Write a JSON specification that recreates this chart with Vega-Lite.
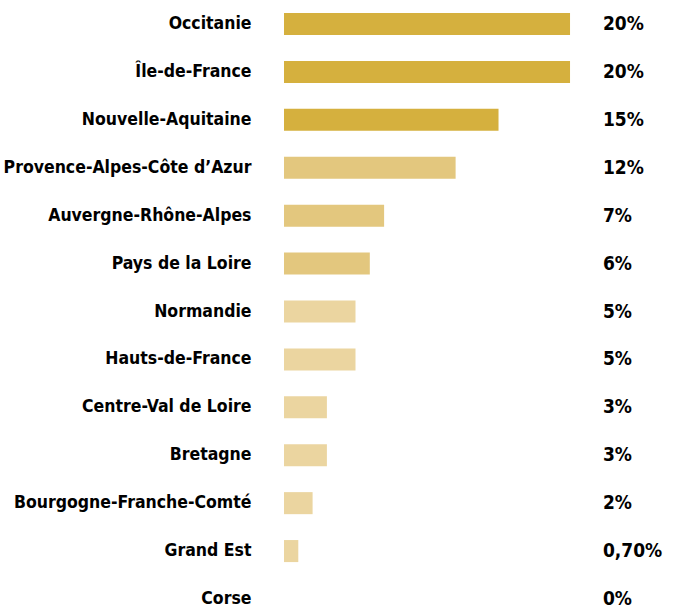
{
  "$schema": "https://vega.github.io/schema/vega-lite/v6.json",
  "autosize": "none",
  "width": 391,
  "height": 597,
  "padding": {"left": 284, "top": 13, "right": 0, "bottom": 3},
  "background": "white",
  "config": {"view": {"stroke": null}},
  "data": {"values": [
    {"region": "Occitanie", "value": 20, "label": "20%", "tier": "a"},
    {"region": "Île-de-France", "value": 20, "label": "20%", "tier": "a"},
    {"region": "Nouvelle-Aquitaine", "value": 15, "label": "15%", "tier": "a"},
    {"region": "Provence-Alpes-Côte d’Azur", "value": 12, "label": "12%", "tier": "b"},
    {"region": "Auvergne-Rhône-Alpes", "value": 7, "label": "7%", "tier": "b"},
    {"region": "Pays de la Loire", "value": 6, "label": "6%", "tier": "b"},
    {"region": "Normandie", "value": 5, "label": "5%", "tier": "c"},
    {"region": "Hauts-de-France", "value": 5, "label": "5%", "tier": "c"},
    {"region": "Centre-Val de Loire", "value": 3, "label": "3%", "tier": "c"},
    {"region": "Bretagne", "value": 3, "label": "3%", "tier": "c"},
    {"region": "Bourgogne-Franche-Comté", "value": 2, "label": "2%", "tier": "c"},
    {"region": "Grand Est", "value": 1, "label": "0,70%", "tier": "c"},
    {"region": "Corse", "value": 0, "label": "0%", "tier": "c"}
  ]},
  "encoding": {
    "y": {"field": "region", "type": "nominal", "sort": null,
      "scale": {"paddingInner": 0.54, "paddingOuter": 0},
      "axis": {"title": null, "ticks": false, "domain": false, "labelPadding": 33,
        "labelFont": "DejaVu Sans Condensed, Roboto Condensed, Roboto", "labelFontWeight": "bold", "labelFontSize": 17.5, "labelColor": "#000000", "labelLimit": 400}}
  },
  "layer": [
    {"mark": {"type": "bar"},
     "encoding": {
       "x": {"field": "value", "type": "quantitative", "scale": {"domain": [0, 27.34], "nice": false, "zero": true}, "axis": null},
       "color": {"field": "tier", "type": "nominal", "scale": {"domain": ["a", "b", "c"], "range": ["#D5B03E", "#E3C77E", "#EBD5A0"]}, "legend": null}
     }},
    {"mark": {"type": "text", "align": "left", "baseline": "middle", "font": "DejaVu Sans Condensed, Roboto Condensed, Roboto", "fontWeight": "bold", "fontSize": 19, "color": "#000000"},
     "encoding": {
       "x": {"datum": 22.3},
       "text": {"field": "label"}
     }}
  ]
}
